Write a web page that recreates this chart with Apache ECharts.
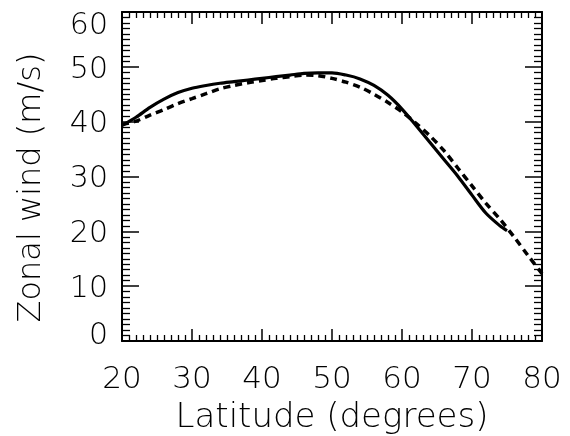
<!DOCTYPE html>
<html>
<head>
<meta charset="utf-8">
<script src="https://cdn.jsdelivr.net/npm/echarts@6/dist/echarts.min.js"></script>
<style>html,body{margin:0;padding:0;background:#fff}#c{width:570px;height:436px}</style>
</head>
<body>
<div id="c"></div>
<script>
var solidLat = [20,22,24,26,28,30,32,34,36,38,40,42,44,46,48,50,52,54,56,58,60,62,64,66,68,70,72,74,75];
var solidWind = [39.3,40.8,42.6,44.1,45.3,46.1,46.6,47.0,47.3,47.6,47.9,48.2,48.5,48.8,48.9,48.9,48.5,47.8,46.6,44.8,42.3,39.3,36.2,33.1,30.0,26.6,23.3,21.0,20.1];
var dashLat = [20,22,24,26,28,30,32,34,36,38,40,42,44,46,48,50,52,54,56,58,60,62,64,66,68,70,72,74,76,78,80];
var dashWind = [39.5,40.1,41.2,42.2,43.3,44.2,45.1,46.0,46.6,47.1,47.5,47.9,48.2,48.5,48.4,47.9,47.2,46.3,45.0,43.5,41.8,39.7,37.4,34.7,31.5,28.3,25.1,22.2,19.0,15.6,12.3];
var xTicks = [20,30,40,50,60,70,80];
var yTicks = [0,10,20,30,40,50,60];

function pairs(xs, ys){ return xs.map(function(x,i){ return [x, ys[i]]; }); }

var FONT = 'DejaVu Sans';
var chart = echarts.init(document.getElementById('c'), null, {renderer:'canvas'});
var lineStyle = {color:'#000', width:2};
function xAx(pos, labels){
  return {
    type:'value', position:pos, min:xTicks[0], max:xTicks[xTicks.length-1], interval:10,
    name: labels ? 'Latitude (degrees)' : '', nameLocation:'middle', nameGap:60,
    nameTextStyle:{fontFamily:FONT, fontSize:34, fontWeight:200, color:'#000'},
    axisLine:{show:true, onZero:false, lineStyle:lineStyle},
    axisTick:{show:true, inside:true, length:12, lineStyle:{color:'#000', width:1.5}},
    minorTick:{show:true, splitNumber:10, length:6, lineStyle:{color:'#000', width:1.3}},
    splitLine:{show:false},
    axisLabel:{show:labels, margin:23, fontFamily:FONT, fontSize:31, fontWeight:200, color:'#000', showMinLabel:true, showMaxLabel:true, hideOverlap:false}
  };
}
function yAx(pos, labels){
  return {
    type:'value', position:pos, min:yTicks[0], max:yTicks[yTicks.length-1], interval:10,
    name: labels ? 'Zonal wind (m/s)' : '', nameLocation:'middle', nameGap:74,
    nameTextStyle:{fontFamily:FONT, fontSize:32, fontWeight:200, color:'#000', padding:[0,22,0,0]},
    axisLine:{show:true, onZero:false, lineStyle:lineStyle},
    axisTick:{show:true, inside:true, length:17, lineStyle:{color:'#000', width:1.5}},
    minorTick:{show:true, splitNumber:10, length:8, lineStyle:{color:'#000', width:1.3}},
    splitLine:{show:false},
    axisLabel:{show:labels, margin:14, fontFamily:FONT, fontSize:30, fontWeight:200, color:'#000', showMinLabel:true, showMaxLabel:true, hideOverlap:false,
      formatter:function(v){
        if (v === yTicks[yTicks.length-1]) return '{top|' + v + '}';
        if (v === yTicks[0]) return '{bot|' + v + '}';
        return '{mid|' + v + '}';
      },
      rich:{
        top:{fontFamily:FONT, fontSize:30, fontWeight:200, color:'#000', padding:[28,0,0,0]},
        mid:{fontFamily:FONT, fontSize:30, fontWeight:200, color:'#000', padding:[6,0,0,0]},
        bot:{fontFamily:FONT, fontSize:30, fontWeight:200, color:'#000', padding:[0,0,10,0]}
      }
    }
  };
}
chart.setOption({
  backgroundColor:'#fff',
  animation:false,
  grid:{left:122, right:28, top:12, bottom:95, containLabel:false, outerBoundsMode:'none'},
  xAxis:[xAx('bottom', true), xAx('top', false)],
  yAxis:[yAx('left', true), yAx('right', false)],
  series:[
    {type:'line', xAxisIndex:0, yAxisIndex:0, data:pairs(solidLat, solidWind), smooth:0.3, symbol:'none',
     lineStyle:{color:'#000', width:3.2, type:'solid'}},
    {type:'line', xAxisIndex:0, yAxisIndex:0, data:pairs(dashLat, dashWind), smooth:0.3, symbol:'none',
     lineStyle:{color:'#000', width:3.5, type:[7,5]}}
  ]
});
</script>
</body>
</html>
